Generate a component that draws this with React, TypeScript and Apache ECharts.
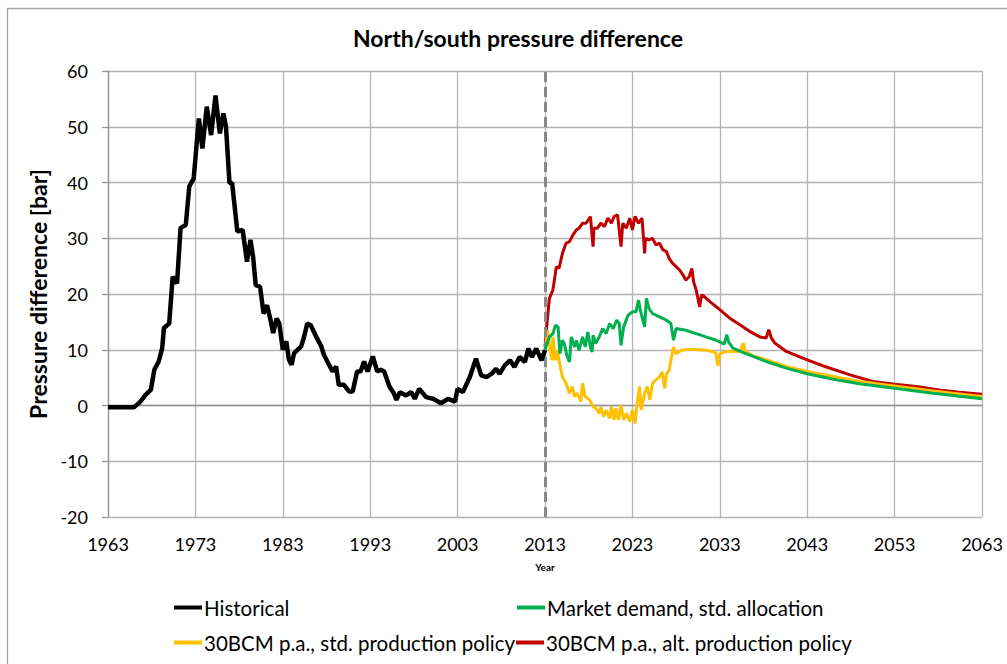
import React, { useEffect, useRef } from "react";
import * as echarts from "echarts";

const xTicks = [1963, 1973, 1983, 1993, 2003, 2013, 2023, 2033, 2043, 2053, 2063];

const histYears = [1963, 1966.0, 1966.7, 1967.3, 1967.9, 1968.3, 1968.8, 1969.2, 1969.4, 1970.0, 1970.4, 1970.9, 1971.3, 1971.9, 1972.3, 1972.8, 1973.4, 1973.8, 1974.3, 1974.8, 1975.3, 1975.8, 1976.2, 1976.5, 1976.9, 1977.2, 1977.8, 1978.4, 1978.9, 1979.3, 1979.6, 1979.9, 1980.4, 1980.8, 1981.2, 1981.6, 1981.9, 1982.3, 1982.6, 1983.0, 1983.4, 1983.7, 1984.0, 1984.3, 1985.1, 1985.4, 1985.8, 1986.2, 1986.8, 1987.4, 1987.7, 1988.1, 1988.7, 1989.1, 1989.4, 1990.0, 1990.6, 1991.0, 1991.5, 1991.9, 1992.3, 1992.7, 1993.3, 1993.8, 1994.2, 1994.6, 1995.2, 1995.7, 1996.0, 1996.4, 1997.1, 1997.7, 1998.1, 1998.6, 1999.4, 2000.2, 2001.1, 2001.9, 2002.7, 2003.0, 2003.6, 2004.4, 2005.1, 2005.7, 2006.3, 2006.9, 2007.4, 2007.8, 2008.4, 2009.0, 2009.5, 2010.1, 2010.7, 2011.1, 2011.5, 2012.0, 2012.6, 2013.0];
const histValues = [-0.3, -0.3, 0.7, 1.9, 2.8, 6.4, 7.9, 10.3, 13.9, 14.7, 23.1, 21.9, 31.8, 32.4, 39.3, 40.7, 51.5, 46.1, 53.6, 48.5, 55.6, 48.8, 52.4, 50.0, 39.9, 39.9, 31.2, 31.5, 25.8, 29.7, 26.7, 21.6, 21.3, 16.5, 18.0, 15.3, 13.0, 15.6, 14.7, 10.0, 11.5, 8.2, 7.3, 9.4, 10.6, 12.1, 14.7, 14.4, 12.4, 10.6, 9.1, 7.9, 6.1, 7.0, 3.7, 3.7, 2.5, 2.5, 6.1, 6.1, 7.9, 6.1, 8.8, 6.1, 6.4, 6.1, 3.4, 2.2, 1.0, 2.4, 1.8, 2.4, 1.2, 3.0, 1.5, 1.2, 0.4, 1.2, 0.7, 3.0, 2.4, 5.1, 8.4, 5.4, 5.1, 5.7, 6.6, 5.7, 7.2, 8.1, 6.9, 8.7, 7.8, 10.2, 8.7, 10.2, 8.1, 9.9];

const marketYears = [2013.0, 2013.1, 2013.5, 2013.9, 2014.2, 2014.5, 2014.7, 2015.0, 2015.2, 2015.5, 2015.8, 2016.0, 2016.4, 2016.6, 2016.9, 2017.3, 2017.6, 2017.9, 2018.2, 2018.4, 2018.5, 2018.8, 2019.2, 2019.6, 2020.0, 2020.4, 2020.8, 2021.2, 2021.5, 2021.7, 2022.0, 2022.5, 2023.0, 2023.4, 2023.7, 2023.9, 2024.4, 2024.6, 2024.9, 2025.3, 2026.1, 2026.9, 2027.4, 2027.7, 2028.0, 2029.1, 2030.3, 2031.4, 2032.6, 2033.5, 2033.8, 2034.0, 2034.5, 2035.7, 2038.3, 2040.6, 2043, 2046, 2049, 2053, 2057.4, 2063];
const marketValues = [10.0, 10.5, 12.3, 12.9, 14.4, 14.1, 9.3, 11.7, 11.1, 9.0, 7.8, 12.3, 10.5, 11.7, 9.9, 12.3, 10.5, 13.2, 10.5, 9.6, 12.6, 11.1, 12.3, 13.8, 12.9, 14.7, 13.8, 15.3, 14.7, 10.8, 14.1, 16.2, 16.8, 16.8, 18.9, 17.1, 14.1, 19.2, 17.4, 16.5, 15.9, 15.3, 14.7, 11.7, 13.8, 13.5, 12.9, 12.3, 11.7, 11.0, 12.7, 11.4, 10.3, 9.5, 7.9, 6.7, 5.7, 4.7, 3.9, 3.1, 2.2, 1.2];

const stdYears = [2013.0, 2013.1, 2013.3, 2013.6, 2013.8, 2013.9, 2014.2, 2014.4, 2014.6, 2015.0, 2015.4, 2015.8, 2016.1, 2016.4, 2016.7, 2017.1, 2017.3, 2017.6, 2018.1, 2018.5, 2018.8, 2019.2, 2019.4, 2019.7, 2020.0, 2020.4, 2020.6, 2020.9, 2021.1, 2021.4, 2021.7, 2022.0, 2022.3, 2022.7, 2023.0, 2023.3, 2023.5, 2023.8, 2024.0, 2024.4, 2024.7, 2025.0, 2025.3, 2025.7, 2026.1, 2026.4, 2026.7, 2026.9, 2027.2, 2027.4, 2027.7, 2028.0, 2028.6, 2029.5, 2030.7, 2031.8, 2032.5, 2032.8, 2033.0, 2033.8, 2035.3, 2035.7, 2035.9, 2036.8, 2038.3, 2040.6, 2043, 2046, 2049, 2053, 2057.4, 2063];
const stdValues = [10.0, 11.1, 13.5, 9.9, 8.1, 12.3, 8.1, 9.9, 8.1, 5.1, 4.0, 2.2, 3.4, 1.6, 2.2, 0.7, 4.0, 1.6, 1.0, -0.2, -0.5, -1.4, -0.2, -2.0, -0.8, -2.3, -0.2, -2.6, -0.5, -2.6, 0.1, -2.6, -1.4, -2.9, -0.8, -3.2, -0.2, 3.4, -0.8, 2.2, 3.4, 1.0, 4.0, 4.6, 5.1, 6.0, 3.1, 5.7, 6.3, 8.1, 10.5, 9.3, 9.9, 10.1, 10.0, 9.8, 9.5, 7.1, 9.3, 9.7, 9.7, 11.2, 9.7, 8.9, 8.2, 7.0, 6.1, 5.2, 4.3, 3.5, 2.6, 1.6];

const altYears = [2013.0, 2013.3, 2013.5, 2013.9, 2014.3, 2014.6, 2015.0, 2015.4, 2015.8, 2016.2, 2016.6, 2016.9, 2017.3, 2017.7, 2018.2, 2018.5, 2018.6, 2019.0, 2019.4, 2019.8, 2020.2, 2020.6, 2020.9, 2021.3, 2021.7, 2021.9, 2022.3, 2022.7, 2023.0, 2023.3, 2023.7, 2024.1, 2024.4, 2024.5, 2024.9, 2025.3, 2025.7, 2026.1, 2026.5, 2026.9, 2027.2, 2027.6, 2028.0, 2028.4, 2028.8, 2029.1, 2029.5, 2029.8, 2030.0, 2030.3, 2030.7, 2030.9, 2031.1, 2031.9, 2033, 2034.1, 2035.3, 2036.4, 2037.6, 2038.3, 2038.6, 2038.9, 2039.3, 2040.6, 2043, 2045.2, 2047.9, 2050.5, 2053, 2055.5, 2058.1, 2060.4, 2063];
const altValues = [10.5, 15.9, 19.2, 20.7, 24.9, 24.6, 27.3, 29.1, 29.4, 30.6, 31.5, 31.8, 32.7, 32.7, 33.9, 28.5, 31.8, 31.8, 32.7, 32.1, 33.6, 32.7, 33.9, 34.2, 28.5, 32.7, 31.8, 33.6, 31.5, 33.9, 32.7, 33.6, 27.3, 30.0, 29.7, 30.0, 28.8, 29.1, 27.9, 27.6, 26.4, 25.5, 24.9, 24.3, 23.4, 22.5, 23.1, 24.6, 22.2, 20.7, 17.7, 19.8, 19.7, 18.6, 17.2, 15.7, 14.5, 13.3, 12.3, 12.1, 13.6, 12.1, 11.2, 9.7, 8.2, 6.9, 5.5, 4.3, 3.8, 3.4, 2.8, 2.4, 2.0];

const seriesNames = [
  "Historical",
  "Market demand, std. allocation",
  "30BCM p.a., std. production policy",
  "30BCM p.a., alt. production policy",
];
const seriesColors = ["#000000", "#00B050", "#FFC000", "#C00000"];

const zip = (xs: number[], ys: number[]) => xs.map((x, i) => [x, ys[i]]);

const FONT = "Lato";

export default function App() {
  const ref = useRef<HTMLDivElement>(null);
  useEffect(() => {
    if (!ref.current) return;
    const chart = echarts.init(ref.current, null, { renderer: "svg" });
    const datasets = [
      zip(histYears, histValues),
      zip(marketYears, marketValues),
      zip(stdYears, stdValues),
      zip(altYears, altValues),
    ];
    const widths = [4.5, 3, 3, 3];
    const legendPos = [
      { left: 174, top: 597 },
      { left: 517, top: 597 },
      { left: 174, top: 632 },
      { left: 516, top: 632 },
    ];
    const option: any = {
      animation: false,
      backgroundColor: "#ffffff",
      title: {
        text: "North/south pressure difference",
        left: 513,
        textAlign: "center",
        top: 21,
        textStyle: { fontFamily: FONT, fontSize: 23, fontWeight: "bold", color: "#000" },
      },
      graphic: [
        {
          type: "rect",
          shape: { x: 7.5, y: 8.5, width: 1100, height: 800 },
          style: { fill: "none", stroke: "#a6a6a6", lineWidth: 1.3 },
          silent: true,
        },
      ],
      legend: legendPos.map((p, i) => ({
        data: [seriesNames[i]],
        left: p.left,
        top: p.top,
        icon: "rect",
        itemWidth: 28,
        itemHeight: 4,
        itemGap: 0,
        padding: 0,
        textStyle: { fontFamily: FONT, fontSize: 20.5, color: "#000", padding: [0, 0, 0, -3] },
      })),
      grid: { left: 108, right: 25, top: 71, bottom: 147, containLabel: false },
      xAxis: {
        type: "value",
        min: 1963,
        max: 2063,
        interval: 10,
        name: "Year",
        nameLocation: "middle",
        nameGap: 45,
        nameTextStyle: { fontFamily: FONT, fontSize: 10, fontWeight: "bold", color: "#000" },
        axisLine: { show: true, lineStyle: { color: "#969696", width: 1.3 } },
        axisTick: { show: false },
        axisLabel: {
          fontFamily: FONT,
          fontSize: 18,
          color: "#000",
          margin: 18,
          formatter: (v: number) => (xTicks.includes(Math.round(v)) ? String(Math.round(v)) : ""),
        },
        splitLine: { show: true, lineStyle: { color: "#b4b4b4", width: 1.3 } },
      },
      yAxis: {
        type: "value",
        min: -20,
        max: 60,
        interval: 10,
        name: "Pressure difference [bar]",
        nameLocation: "middle",
        nameGap: 56,
        nameRotate: 90,
        nameTextStyle: { fontFamily: FONT, fontSize: 23, fontWeight: "bold", color: "#000" },
        axisLine: { show: true, lineStyle: { color: "#969696", width: 1.3 } },
        axisTick: { show: true, inside: false, length: 6, lineStyle: { color: "#969696", width: 1.3 } },
        axisLabel: { fontFamily: FONT, fontSize: 18, color: "#000", margin: 20 },
        splitLine: { show: true, lineStyle: { color: "#b4b4b4", width: 1.3 } },
      },
      series: datasets.map((d, i) => ({
        name: seriesNames[i],
        type: "line",
        data: d,
        showSymbol: false,
        symbol: "none",
        color: seriesColors[i],
        lineStyle: { color: seriesColors[i], width: widths[i] },
        z: i === 0 ? 5 : 4 - i + 2,
        markLine:
          i === 0
            ? {
                silent: true,
                symbol: ["none", "none"],
                label: { show: false },
                lineStyle: { color: "#888888", type: [10, 5], width: 3 },
                data: [{ xAxis: 2013 }],
              }
            : undefined,
      })),
    };
    chart.setOption(option);
    return () => chart.dispose();
  }, []);
  return (
    <div
      ref={ref}
      style={{ position: "absolute", left: 0, top: 0, width: 1007, height: 664 }}
    />
  );
}
